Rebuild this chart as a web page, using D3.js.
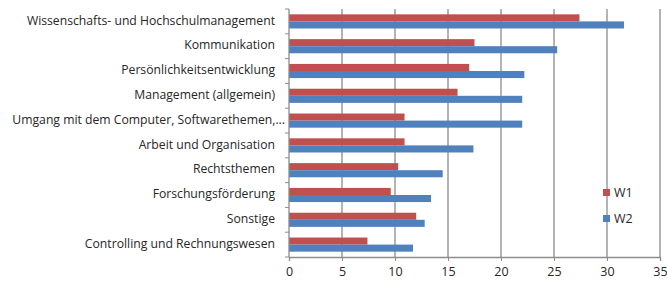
<!DOCTYPE html>
<html>
<head>
<meta charset="utf-8">
<script src="https://cdn.jsdelivr.net/npm/d3@7"></script>
<style>
  body { margin: 0; background: #fff; }
  text { font-family: "Open Sans", sans-serif; fill: #262626; }
</style>
</head>
<body>
<svg id="chart" width="667" height="288"></svg>
<script>
// categories top to bottom
const categories = [
    "Wissenschafts- und Hochschulmanagement",
    "Kommunikation",
    "Persönlichkeitsentwicklung",
    "Management (allgemein)",
    "Umgang mit dem Computer, Softwarethemen,...",
    "Arbeit und Organisation",
    "Rechtsthemen",
    "Forschungsförderung",
    "Sonstige",
    "Controlling und Rechnungswesen"
];
const w1 = [27.4, 17.5, 17.0, 15.9, 10.9, 10.9, 10.3, 9.6, 12.0, 7.4];
const w2 = [31.6, 25.3, 22.2, 22.0, 22.0, 17.4, 14.5, 13.4, 12.8, 11.7];
const seriesNames = ["W1", "W2"];
const xTicks = [0, 5, 10, 15, 20, 25, 30, 35];

const colors = { W1: "#C0504D", W2: "#4F81BD" };

const svg = d3.select("#chart");
const margin = { top: 9, left: 289, right: 7, bottom: 31 };
const width = 667 - margin.left - margin.right;
const height = 288 - margin.top - margin.bottom;

const g = svg.append("g")
    .attr("transform", `translate(${margin.left},${margin.top})`);

const x = d3.scaleLinear().domain([0, 35]).range([0, width]);
const y = d3.scaleBand().domain(categories).range([0, height]).paddingInner(0.43).paddingOuter(0.215);
const ySub = d3.scaleBand().domain(seriesNames).range([0, y.bandwidth()]);

// gridlines
g.selectAll("line.grid")
    .data(xTicks.slice(1))
    .enter().append("line")
    .attr("class", "grid")
    .attr("x1", d => x(d)).attr("x2", d => x(d))
    .attr("y1", 0).attr("y2", height)
    .attr("stroke", "#8c8c8c")
    .attr("stroke-width", 1.3);

// bars
const rows = categories.map((c, i) => ({ cat: c, W1: w1[i], W2: w2[i] }));
const grp = g.selectAll("g.row")
    .data(rows)
    .enter().append("g")
    .attr("class", "row")
    .attr("transform", d => `translate(0,${y(d.cat)})`);

grp.selectAll("rect")
    .data(d => seriesNames.map(s => ({ s, v: d[s] })))
    .enter().append("rect")
    .attr("x", 0)
    .attr("y", d => ySub(d.s))
    .attr("width", d => x(d.v))
    .attr("height", ySub.bandwidth())
    .attr("fill", d => colors[d.s]);

// x axis
const xAxis = g.append("g")
    .attr("transform", `translate(0,${height})`)
    .call(d3.axisBottom(x).tickValues(xTicks).tickSize(4).tickPadding(6));
xAxis.selectAll("line").attr("stroke", "#8c8c8c");
xAxis.select(".domain").attr("stroke", "#8c8c8c").attr("stroke-width", 1.3);
xAxis.selectAll("text").style("font-size", "12.5px").attr("fill", "#262626");

// y axis line with ticks at category boundaries
g.append("line")
    .attr("x1", 0).attr("x2", 0).attr("y1", 0).attr("y2", height)
    .attr("stroke", "#8c8c8c").attr("stroke-width", 1.3);
const step = height / categories.length;
g.selectAll("line.ytick")
    .data(d3.range(categories.length + 1))
    .enter().append("line")
    .attr("class", "ytick")
    .attr("x1", -4).attr("x2", 0)
    .attr("y1", d => d * step).attr("y2", d => d * step)
    .attr("stroke", "#8c8c8c");

// category labels (the truncated one sits closer to the axis, like Excel does)
g.selectAll("text.cat")
    .data(categories)
    .enter().append("text")
    .attr("class", "cat")
    .attr("x", d => d.endsWith("...") ? -4 : -14)
    .attr("y", d => y(d) + y.bandwidth() / 2 - 1)
    .attr("dy", "0.35em")
    .attr("text-anchor", "end")
    .style("font-size", "12.2px")
    .text(d => d);

// legend
const legend = svg.append("g").attr("transform", "translate(603,186)");
seriesNames.forEach((s, i) => {
    const row = legend.append("g").attr("transform", `translate(0,${i * 26})`);
    row.append("rect").attr("width", 7).attr("height", 7).attr("y", 3).attr("fill", colors[s]);
    row.append("text").attr("x", 11).attr("y", 7).attr("dy", "0.35em")
        .style("font-size", "12.5px").text(s);
});
</script>
</body>
</html>
